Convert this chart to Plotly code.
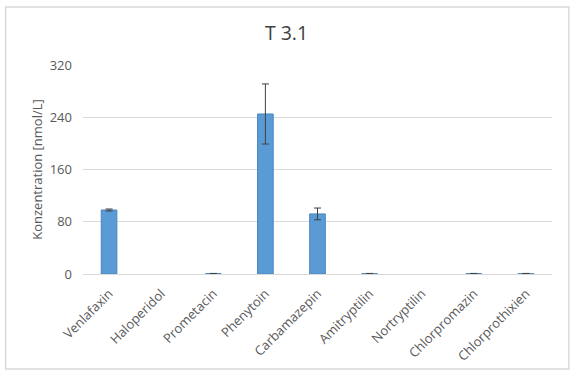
import plotly.graph_objects as go

categories = ["Venlafaxin", "Haloperidol", "Prometacin", "Phenytoin", "Carbamazepin",
              "Amitryptilin", "Nortryptilin", "Chlorpromazin", "Chlorprothixien"]
values = [98, None, 0.5, 245, 92, 0.5, None, 0.5, 0.5]
errors = [1.5, None, 0.4, 46, 9, 0.4, None, 0.4, 0.4]
y_ticks = [0, 80, 160, 240, 320]

fig = go.Figure()
fig.add_trace(go.Bar(
    x=categories, y=values,
    marker=dict(color="#5B9BD5", line=dict(color="#4A86C0", width=1)),
    width=0.3,
    error_y=dict(type="data", array=errors, visible=True, color="#404040", thickness=1, width=3.5),
))

font_family = "Open Sans, Noto Sans, sans-serif"
fig.update_layout(
    width=576, height=376,
    margin=dict(l=83, r=24, t=65, b=102, autoexpand=False),
    paper_bgcolor="white", plot_bgcolor="white",
    showlegend=False,
    title=dict(text="T 3.1", x=286.5 / 576, xanchor="center", y=1 - 33 / 376, yanchor="middle",
               font=dict(family=font_family, size=19.5, color="#404040")),
    font=dict(family=font_family, size=13, color="#595959"),
    xaxis=dict(tickangle=-45, showgrid=False, showline=True, linecolor="#D9D9D9", linewidth=1,
               ticks="", automargin=False, ticklabelstandoff=6,
               tickfont=dict(size=13, color="#595959")),
    yaxis=dict(range=[0, 320], tickvals=y_ticks, showgrid=True, gridcolor="#D9D9D9", gridwidth=1,
               zeroline=False, showline=False, ticks="", ticklen=0, automargin=False,
               ticklabelstandoff=10,
               tickfont=dict(size=13, color="#595959"),
               title=dict(text="Konzentration [nmol/L]", standoff=4,
                          font=dict(size=13, color="#595959"))),
    shapes=[dict(type="rect", xref="paper", yref="paper",
                 x0=-0.165, x1=1.036, y0=-0.455, y1=1.278,
                 line=dict(color="#D9D9D9", width=1.5), fillcolor="rgba(0,0,0,0)", layer="below")],
)

fig.write_html("out.html", config={"displayModeBar": False},
               post_script="document.body.style.margin='0';")
